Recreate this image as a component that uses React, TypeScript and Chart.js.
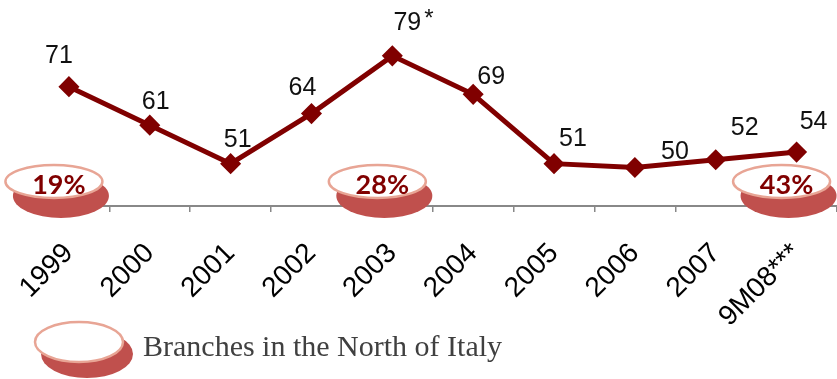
import { useEffect, useRef } from 'react';
import { Chart, registerables } from 'chart.js';

Chart.register(...registerables);

// Branch counts per year
const years = ['1999', '2000', '2001', '2002', '2003', '2004', '2005', '2006', '2007', '9M08***'];
const branches = [71, 61, 51, 64, 79, 69, 51, 50, 52, 54];
const valueNotes = ['', '', '', '', '*', '', '', '', '', ''];

// Share of branches in the North, shown as badges over selected years
const northShares = ['19%', '28%', '43%'];
const northShareYears = ['1999', '2003', '9M08***'];

const legendText = 'Branches in the North of Italy';

// Where each value label sits relative to its point (dx, dy of text centre)
const labelShift: [number, number][] = [
  [-10, -31], [6, -23], [7, -24], [-9, -25], [15, -33],
  [18, -17], [19, -25], [40, -15], [29, -32], [17, -30],
];

const LINE_RED = '#800000';
const SHADOW_RED = '#C0504D';
const RIM_PINK = '#E8A595';

function drawBadge(
  ctx: CanvasRenderingContext2D,
  cx: number, cy: number, rx: number, ry: number,
  sdx: number, sdy: number, srx: number, sry: number,
) {
  ctx.save();
  ctx.fillStyle = SHADOW_RED;
  ctx.beginPath();
  ctx.ellipse(cx + sdx, cy + sdy, srx, sry, 0, 0, Math.PI * 2);
  ctx.fill();
  ctx.fillStyle = '#FFFFFF';
  ctx.strokeStyle = RIM_PINK;
  ctx.lineWidth = 2.5;
  ctx.beginPath();
  ctx.ellipse(cx, cy, rx, ry, 0, 0, Math.PI * 2);
  ctx.fill();
  ctx.stroke();
  ctx.restore();
}

const decorations = {
  id: 'decorations',
  afterDatasetsDraw(chart: any) {
    const ctx: CanvasRenderingContext2D = chart.ctx;
    const meta = chart.getDatasetMeta(0);
    ctx.save();
    ctx.fillStyle = '#111111';
    ctx.textAlign = 'center';
    ctx.textBaseline = 'middle';
    meta.data.forEach((pt: any, i: number) => {
      const [dx, dy] = labelShift[i];
      const text = String(branches[i]);
      const x = pt.x + dx;
      const y = pt.y + dy;
      ctx.font = '25px "Liberation Sans", Arial, sans-serif';
      ctx.fillText(text, x, y);
      if (valueNotes[i]) {
        const w = ctx.measureText(text).width;
        ctx.font = '24px "Liberation Sans", Arial, sans-serif';
        ctx.textAlign = 'left';
        ctx.fillText(valueNotes[i], x + w / 2 + 3, y - 3);
        ctx.textAlign = 'center';
      }
    });
    ctx.restore();
  },
  afterDraw(chart: any) {
    const ctx: CanvasRenderingContext2D = chart.ctx;
    const xScale = chart.scales.x;
    const cy = 181.5;
    northShares.forEach((share, k) => {
      const idx = years.indexOf(northShareYears[k]);
      const cx = xScale.getPixelForValue(idx) - 15;
      drawBadge(ctx, cx, cy, 48.5, 16.5, 7, 14.5, 48, 22);
      ctx.save();
      ctx.fillStyle = LINE_RED;
      ctx.font = 'bold 27px Lato, "Open Sans", sans-serif';
      ctx.textAlign = 'center';
      ctx.textBaseline = 'middle';
      ctx.fillText(share, cx + 5, cy + 4);
      ctx.restore();
    });

    // legend
    drawBadge(ctx, 79, 342, 44, 20, 8, 12, 46, 24);
    ctx.save();
    ctx.fillStyle = '#404040';
    ctx.font = '30px "Liberation Serif", "Times New Roman", serif';
    ctx.textAlign = 'left';
    ctx.textBaseline = 'alphabetic';
    ctx.fillText(legendText, 143, 356);
    ctx.restore();
  },
};

export default function App() {
  const canvasRef = useRef<HTMLCanvasElement | null>(null);

  useEffect(() => {
    if (!canvasRef.current) return;
    const chart = new Chart(canvasRef.current, {
      type: 'line',
      data: {
        labels: years,
        datasets: [
          {
            data: branches,
            borderColor: LINE_RED,
            backgroundColor: LINE_RED,
            borderWidth: 5,
            pointStyle: 'rectRot',
            pointRadius: 7,
            pointBackgroundColor: LINE_RED,
            pointBorderColor: LINE_RED,
            tension: 0,
            clip: false,
          },
        ],
      },
      options: {
        responsive: false,
        animation: false,
        layout: { autoPadding: false, padding: { top: 52, left: 28.5, right: -2.5, bottom: 0 } },
        plugins: {
          legend: { display: false },
          tooltip: { enabled: false },
        },
        scales: {
          x: {
            offset: true,
            grid: {
              offset: true,
              drawOnChartArea: false,
              drawTicks: true,
              tickLength: 6,
              color: '#888888',
              lineWidth: 1.5,
            },
            border: { display: true, color: '#888888', width: 2 },
            ticks: {
              color: '#000000',
              font: { family: '"Liberation Sans", Arial, sans-serif', size: 28 },
              minRotation: 45,
              maxRotation: 45,
              padding: 25,
              autoSkip: false,
            },
            afterFit: (scale: any) => {
              scale.height = 173;
              scale.paddingLeft = 0;
              scale.paddingRight = 0;
            },
          },
          y: {
            display: false,
            min: 40,
            max: 80,
          },
        },
      },
      plugins: [decorations],
    });
    return () => chart.destroy();
  }, []);

  return (
    <div style={{ position: 'absolute', left: 0, top: 0, width: 837, height: 379, background: '#fff' }}>
      <canvas ref={canvasRef} width={837} height={379} />
    </div>
  );
}
